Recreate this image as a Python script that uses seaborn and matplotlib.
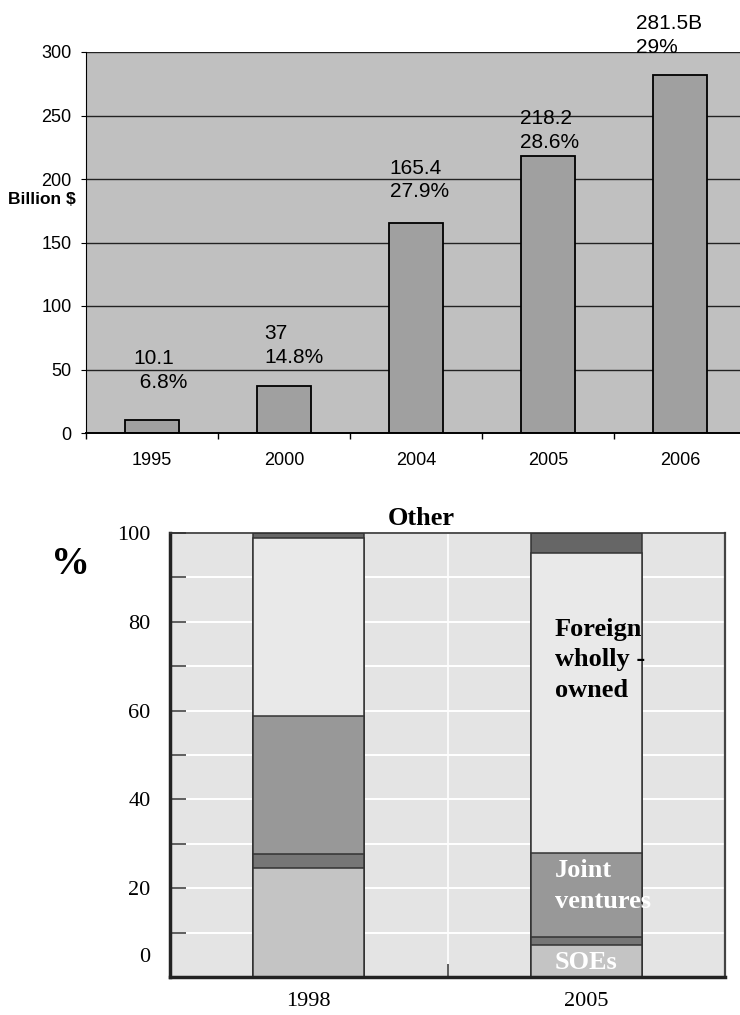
import matplotlib
matplotlib.use("Agg")
import matplotlib.pyplot as plt
import numpy as np
import pandas as pd
import seaborn as sns

# top chart: billion $ per year
years_top = ["1995", "2000", "2004", "2005", "2006"]
billions = [10.1, 37, 165.4, 218.2, 281.5]
bar_labels = ["10.1\n 6.8%", "37\n14.8%", "165.4\n27.9%", "218.2\n28.6%", "281.5B\n29%"]

# bottom chart: share by ownership (%)
years_share = ["1998", "2005"]
soes = [24.5, 7.2]
collective = [3.2, 1.8]
joint_ventures = [31.1, 18.9]
foreign_owned = [40.1, 67.6]
other = [1.1, 4.5]

SANS = ["Liberation Sans", "DejaVu Sans"]
SERIF = ["Liberation Serif", "DejaVu Serif"]

# label placement (x shift in category units, top of text in data units)
label_dx = [-0.14, -0.15, -0.2, -0.21, -0.33]
label_top = [66, 86, 216, 255, 330]

fig = plt.figure(figsize=(7.4, 10.15), dpi=100)

# ---------- top chart ----------
ax1 = fig.add_axes([86 / 740, 1 - 433 / 1015, 660 / 740, 381 / 1015])
df_top = pd.DataFrame({"year": years_top, "value": billions})
sns.barplot(data=df_top, x="year", y="value", color="#A0A0A0", saturation=1,
            width=0.41, edgecolor="black", linewidth=1.3, ax=ax1)
ax1.set_facecolor("#C0C0C0")
ax1.set_xlim(-0.5, 4.5)
ax1.set_ylim(0, 300)
ax1.set_yticks(range(0, 301, 50))
ax1.yaxis.grid(True, color="#222222", linewidth=1)
ax1.set_axisbelow(True)
ax1.set_xlabel("")
ax1.set_ylabel("")
for s in ["top", "right"]:
    ax1.spines[s].set_visible(False)
ax1.spines["left"].set_color("black")
ax1.spines["bottom"].set_color("black")
ax1.spines["bottom"].set_linewidth(1.4)
ax1.tick_params(axis="y", length=3.5, pad=7, labelsize=13)
ax1.tick_params(axis="x", which="major", length=0, pad=14, labelsize=13)
ax1.set_xticks(np.arange(-0.5, 5, 1), minor=True)
ax1.tick_params(axis="x", which="minor", length=4.5, width=1)
for lab in ax1.get_xticklabels() + ax1.get_yticklabels():
    lab.set_family(SANS)

for i, txt in enumerate(bar_labels):
    ax1.text(i + label_dx[i], label_top[i], txt, ha="left", va="top",
             fontsize=15, family=SANS, linespacing=1.32)

fig.text(8 / 740, 1 - 200 / 1015, "Billion $", fontsize=12.5, fontweight="bold",
         family=SANS, ha="left", va="center")

# ---------- bottom chart ----------
ax2 = fig.add_axes([170 / 740, 1 - 977 / 1015, 555 / 740, 444 / 1015])
layers = [soes, collective, joint_ventures, foreign_owned, other]
colors = ["#C4C4C4", "#767676", "#989898", "#E9E9E9", "#666666"]
stack = np.cumsum(layers, axis=0)
for k in reversed(range(len(layers))):
    sns.barplot(x=years_share, y=stack[k], color=colors[k], saturation=1,
                width=0.4, edgecolor="#333333", linewidth=1.1, ax=ax2)
ax2.set_facecolor("#E4E4E4")
ax2.set_xlim(-0.5, 1.5)
ax2.set_ylim(0, 100)
ax2.set_yticks(range(0, 101, 10))
ax2.set_yticklabels(["", "", "20", "", "40", "", "60", "", "80", "", "100"])
ax2.yaxis.grid(True, color="white", linewidth=1.4)
ax2.set_xticks([0.5], minor=True)
ax2.xaxis.grid(True, which="minor", color="white", linewidth=1.2)
ax2.set_axisbelow(True)
ax2.tick_params(axis="y", direction="in", length=11.5, width=1.1, color="#333333",
                pad=14, labelsize=16)
ax2.tick_params(axis="x", which="major", length=0, pad=11, labelsize=16)
ax2.tick_params(axis="x", which="minor", direction="in", length=9.5, width=1.1,
                color="#333333")
for lab in ax2.get_xticklabels() + ax2.get_yticklabels():
    lab.set_family(SERIF)
ax2.annotate("0", xy=(0, 0), xycoords=("axes fraction", "data"), xytext=(-14, 14),
             textcoords="offset points", ha="right", va="center", fontsize=16,
             family=SERIF)
for s in ["left", "bottom"]:
    ax2.spines[s].set_linewidth(2.5)
    ax2.spines[s].set_color("#222222")
ax2.spines["top"].set_linewidth(1.2)
ax2.spines["top"].set_color("#333333")
ax2.spines["right"].set_linewidth(1.6)
ax2.spines["right"].set_color("#444444")

bold_serif = dict(family=SERIF, fontweight="bold", fontsize=19)
ax2.text(0.887, 71.4, "Foreign\nwholly -\nowned", ha="left", va="center",
         color="black", linespacing=1.4, **bold_serif)
ax2.text(0.887, 20.5, "Joint\nventures", ha="left", va="center",
         color="white", linespacing=1.4, **bold_serif)
ax2.text(0.887, 3.2, "SOEs", ha="left", va="center", color="white", **bold_serif)
ax2.text(0.405, 103.3, "Other", ha="center", va="center", color="black",
         clip_on=False, **bold_serif)

fig.text(70 / 740, 1 - 564 / 1015, "%", fontsize=28, fontweight="bold",
         family=SERIF, ha="center", va="center")

fig.savefig("out.png", dpi=100)
